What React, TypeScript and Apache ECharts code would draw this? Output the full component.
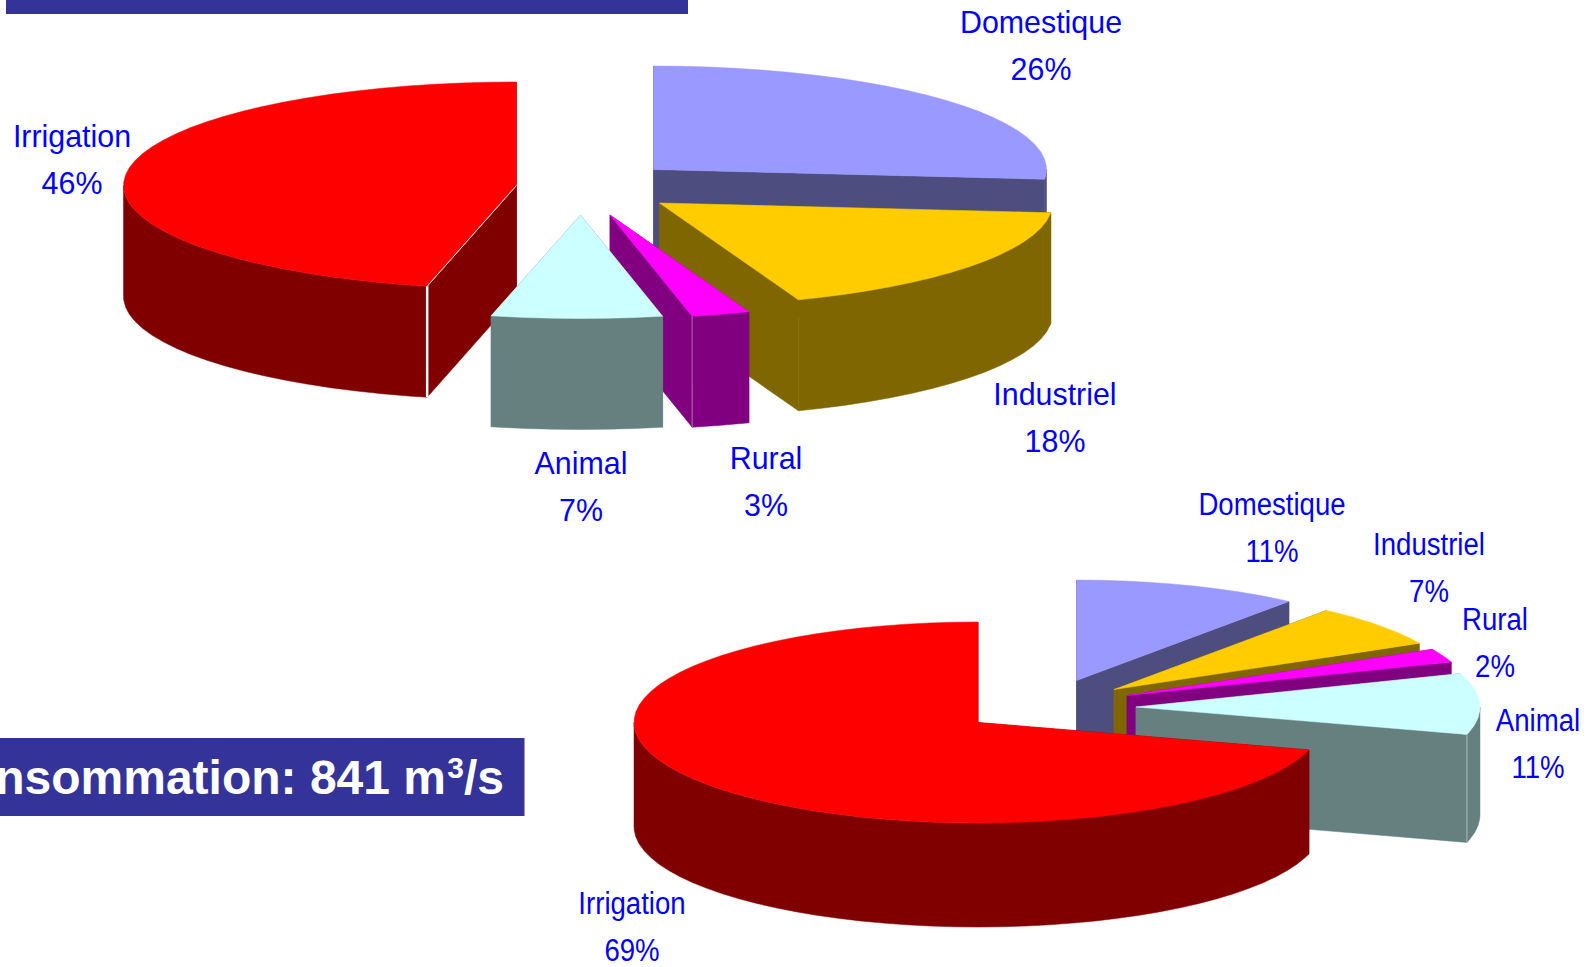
import React, { useEffect, useRef } from "react";
import * as echarts from "echarts";

const sliceNames = ["Domestique", "Industriel", "Rural", "Animal", "Irrigation"];
const topLabels = ["26%", "18%", "3%", "7%", "46%"];
const bottomLabels = ["11%", "7%", "2%", "11%", "69%"];
const topShares = [26.5, 17.75, 2.4, 7, 46.35];
const bottomShares = [10.6, 6.8, 2.2, 9.8, 70.6];
const topFill = ["#9999FF", "#FFCC00", "#FF00FF", "#CCFFFF", "#FF0000"];
const sideFill = ["#4D4D80", "#806600", "#800080", "#668080", "#800000"];
const bannerText = "nsommation: 841 m";

const topPie = {
  rx: 393, ry: 103.5, h: 111,
  apex: [[653.5, 169.5], [659.5, 203], [610, 215], [580.5, 215], [516.5, 185.5]],
  order: [0, 4, 1, 2, 3],
  labelPos: [[1041, 46], [1055, 418], [766, 482], [581, 487], [72, 159.5]],
  labelScale: 0.98,
  wallHeights: {} as any,
  edges: { 4: { at: "start", color: "#ffffff", width: 2.5, top: true }, 2: { at: "end", color: "#B070B0", width: 1 } } as any,
};
const bottomPie = {
  rx: 344, ry: 100.5, h: 104,
  apex: [[1076.5, 680.5], [1114, 689.5], [1127, 695.5], [1136, 707], [978, 722.5]],
  order: [0, 1, 2, 3, 4],
  labelPos: [[1272, 527], [1429, 567], [1495, 642], [1538, 743], [632, 926]],
  labelScale: 0.89,
  wallHeights: { 3: 108 } as any,
  edges: { 3: { at: "end", color: "#A8BABA", width: 1 } } as any,
};

function pieSeries(pie: any, shares: number[], labels: string[]) {
  const starts: number[] = [];
  let acc = 0;
  shares.forEach((s) => {
    starts.push(acc);
    acc += s;
  });
  const renderItem = (_params: any, api: any) => {
    const share = api.value(0);
    const start = api.value(1);
    const idx = api.value(2);
    const order = _params.dataIndex;
    const [ax, ay] = pie.apex[idx];
    const wallH = pie.wallHeights[idx] ?? pie.h;
    const t0 = (start / 100) * 360;
    const t1 = ((start + share) / 100) * 360;
    const pt = (t: number, dy = 0) => {
      const r = (t * Math.PI) / 180;
      return [ax + pie.rx * Math.sin(r), ay - pie.ry * Math.cos(r) + dy];
    };
    const arc = (a: number, b: number, dy = 0) => {
      const out: number[][] = [pt(a, dy)];
      for (let t = Math.ceil(a / 4) * 4; t < b; t += 4) if (t > a) out.push(pt(t, dy));
      out.push(pt(b, dy));
      return out;
    };
    const side = sideFill[idx];
    const z = order * 10;
    const children: any[] = [];
    const wall = (points: number[][]) =>
      children.push({
        type: "polygon",
        z2: z,
        shape: { points },
        style: { fill: side, stroke: side, lineWidth: 0.5 },
      });
    const down = (p: number[]) => [p[0], p[1] + wallH];
    const apex = [ax, ay];
    [t0, t1].forEach((t) => {
      const p = pt(t);
      wall([apex, p, down(p), down(apex)]);
    });
    const ra = Math.max(t0, 90);
    const rb = Math.min(t1, 270);
    if (ra < rb) {
      const upper = arc(ra, rb);
      wall([...upper, ...upper.slice().reverse().map(down)]);
    }
    children.push({
      type: "polygon",
      z2: z + 1,
      shape: { points: [apex, ...arc(t0, t1)] },
      style: { fill: topFill[idx], stroke: topFill[idx], lineWidth: 0.5 },
    });
    const edge = pie.edges[idx];
    if (edge) {
      const p = pt(edge.at === "start" ? t0 : t1);
      const seg = (a: number[], b: number[], w: number) =>
        children.push({
          type: "line",
          z2: z + 2,
          shape: { x1: a[0], y1: a[1], x2: b[0], y2: b[1] },
          style: { stroke: edge.color, lineWidth: w },
        });
      seg(p, down(p), edge.width);
      if (edge.top) seg(p, apex, 1);
    }
    const [lx, ly] = pie.labelPos[idx];
    children.push({
      type: "text",
      z2: 200,
      x: lx,
      y: ly,
      scaleX: pie.labelScale,
      style: {
        text: sliceNames[idx] + "\n" + labels[idx],
        fill: "#0000FF",
        font: "31px 'Liberation Sans', Arial, sans-serif",
        align: "center",
        verticalAlign: "middle",
        lineHeight: 47,
      },
    });
    return { type: "group", children };
  };
  return {
    type: "custom",
    coordinateSystem: "none",
    silent: true,
    clip: false,
    renderItem,
    data: pie.order.map((i: number) => [shares[i], starts[i], i]),
  };
}

export default function App() {
  const ref = useRef<HTMLDivElement>(null);
  useEffect(() => {
    document.body.style.margin = "0";
    const chart = echarts.init(ref.current!, null, { renderer: "svg" });
    const bannerFont = "bold 48px 'Liberation Sans', Arial, sans-serif";
    chart.setOption({
      animation: false,
      backgroundColor: "#ffffff",
      graphic: [
        { type: "rect", shape: { x: 6, y: 0, width: 682, height: 14 }, style: { fill: "#333399" } },
        { type: "rect", shape: { x: 0, y: 738, width: 524.5, height: 78 }, style: { fill: "#333399" } },
        {
          type: "text", x: 446, y: 777, z: 5,
          style: { text: bannerText, fill: "#fff", font: bannerFont, align: "right", verticalAlign: "middle" },
        },
        {
          type: "text", x: 464, y: 767, z: 5,
          style: { text: "3", fill: "#fff", font: "bold 30px 'Liberation Sans', Arial, sans-serif", align: "right", verticalAlign: "middle" },
        },
        {
          type: "text", x: 504, y: 777, z: 5,
          style: { text: "/s", fill: "#fff", font: bannerFont, align: "right", verticalAlign: "middle" },
        },
      ],
      series: [pieSeries(topPie, topShares, topLabels), pieSeries(bottomPie, bottomShares, bottomLabels)],
    });
    return () => chart.dispose();
  }, []);
  return <div ref={ref} style={{ position: "fixed", left: 0, top: 0, width: 1591, height: 967 }} />;
}
